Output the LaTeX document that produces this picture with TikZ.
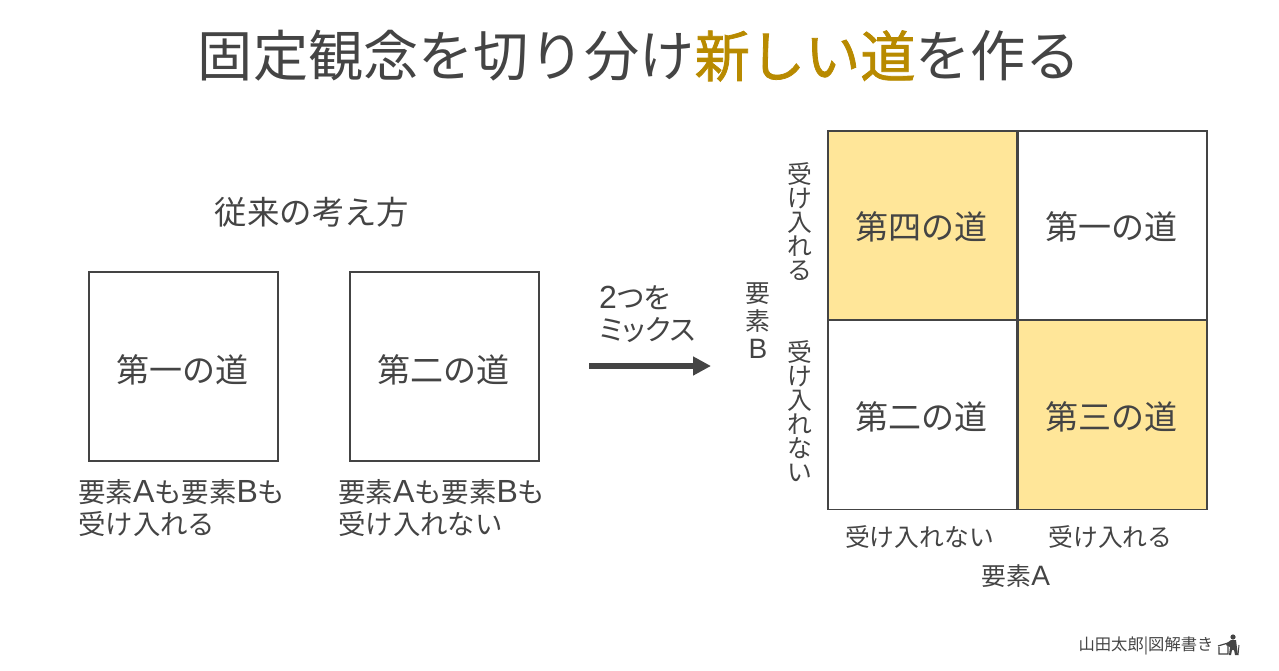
\documentclass[tikz,border=0pt]{standalone}
\usepackage{fontspec}
\setmainfont{Noto Sans CJK JP}
\newfontfamily\latinfont{Liberation Sans}
\newfontfamily\goldfont[FakeBold=1.4]{Noto Sans CJK JP}
\newfontfamily\paltfont[RawFeature=+palt]{Noto Sans CJK JP}
\usetikzlibrary{arrows.meta}
\definecolor{inkgray}{HTML}{444444}
\definecolor{roadgold}{HTML}{B88A00}
\definecolor{roadyellow}{HTML}{FFE699}
\newcommand{\fs}[2]{\fontsize{#1}{#2}\selectfont}
\newcommand{\lat}[2]{{\latinfont\fontsize{#1}{#1}\selectfont #2}}
\newcommand{\down}[2][14pt]{\hspace*{-2pt}\raisebox{-#1}[0pt][0pt]{#2}}

\begin{document}
\begin{tikzpicture}[x=1pt, y=-1pt]
    \tikzstyle{every node}=[text=inkgray, inner sep=0pt]
    \tikzstyle{road}=[draw=inkgray, line width=1.8pt, minimum size=189pt, font=\fs{33}{33}]
    \tikzstyle{newroad}=[road, fill=roadyellow]
    \tikzstyle{caption}=[font=\fs{27.4}{32}, align=left, anchor=west]
    \tikzstyle{axis}=[font=\fs{24.8}{24.8}]
    \tikzstyle{stack}=[font=\fs{24.8}{24}, align=center]
    \useasboundingbox (0, 0) rectangle (1279, 670);
    \draw (639.5, 56) node[font=\fs{55.2}{55.2}] (title) {固定観念を切り分け{\color{roadgold}\goldfont 新しい道}を作る};
    \draw (312, 212) node[font=\fs{32.4}{32.4}] (oldway) {従来の考え方};
    % left pair
    \draw (183.5, 366.5) node[road] (first) {\down[15.5pt]{第一の道}};
    \draw (444.4, 366.5) node[road] (second) {\down[15.5pt]{第二の道}};
    \draw (78, 508) node[caption] (firstcap) {要素\lat{32}{A}も要素\lat{32}{B}も\\受け入れる};
    \draw (338, 508) node[caption] (secondcap) {要素\lat{32}{A}も要素\lat{32}{B}も\\受け入れない};
    % arrow
    \draw (589, 366) coordinate (mixstart);
    \draw (711, 366) coordinate (mixend);
    \draw[-{Triangle[length=18pt, width=18pt]}, draw=inkgray, fill=inkgray, line width=5.5pt] (mixstart) -- (mixend);
    \draw (599, 314) node[caption, font=\fs{28.6}{32}] (mix) {\paltfont\lat{32}{2}つを\\\paltfont ミックス};
    % matrix
    \draw (922.5, 225.5) node[newroad] (fourth) {\down{第四の道}};
    \draw (1112.4, 225.5) node[road] (firstm) {\down{第一の道}};
    \draw (922.5, 415) node[road] (secondm) {\down{第二の道}};
    \draw (1112.4, 415) node[newroad] (third) {\down{第三の道}};
    \draw (919.5, 537) node[axis] (ano) {受け入れない};
    \draw (1110.5, 537) node[axis] (ayes) {受け入れる};
    \draw (1016, 576) node[axis] (axisa) {要素\lat{28}{A}};
    \draw (800, 221.5) node[stack] (byes) {受\\け\\入\\れ\\る};
    \draw (800, 411.5) node[stack] (bno) {受\\け\\入\\れ\\な\\い};
    \draw (758, 321) node[stack, font=\fs{24.8}{28}] (axisb) {要\\素\\\lat{28}{B}};
    % footer
    \draw (1146, 646) node[font=\fs{16.3}{16.3}] (sign) {山田太郎|図解書き};
    \fill[inkgray] (1233, 637) circle (2.6pt);
    \draw[inkgray, line width=1.2pt] (1218, 646) -- (1228, 643) (1219, 647) -- (1219, 654) -- (1228, 654) -- (1228, 646);
    \fill[inkgray] (1231, 640) -- (1236, 640) -- (1237, 648) -- (1238, 655) -- (1235, 655) -- (1234, 650) -- (1232, 650) -- (1231, 655) -- (1229, 655) -- (1230, 647) -- (1226, 645) -- (1227, 643) -- cycle;
    \draw[inkgray, line width=1pt] (1239, 645) -- (1238, 655);
\end{tikzpicture}
\end{document}
